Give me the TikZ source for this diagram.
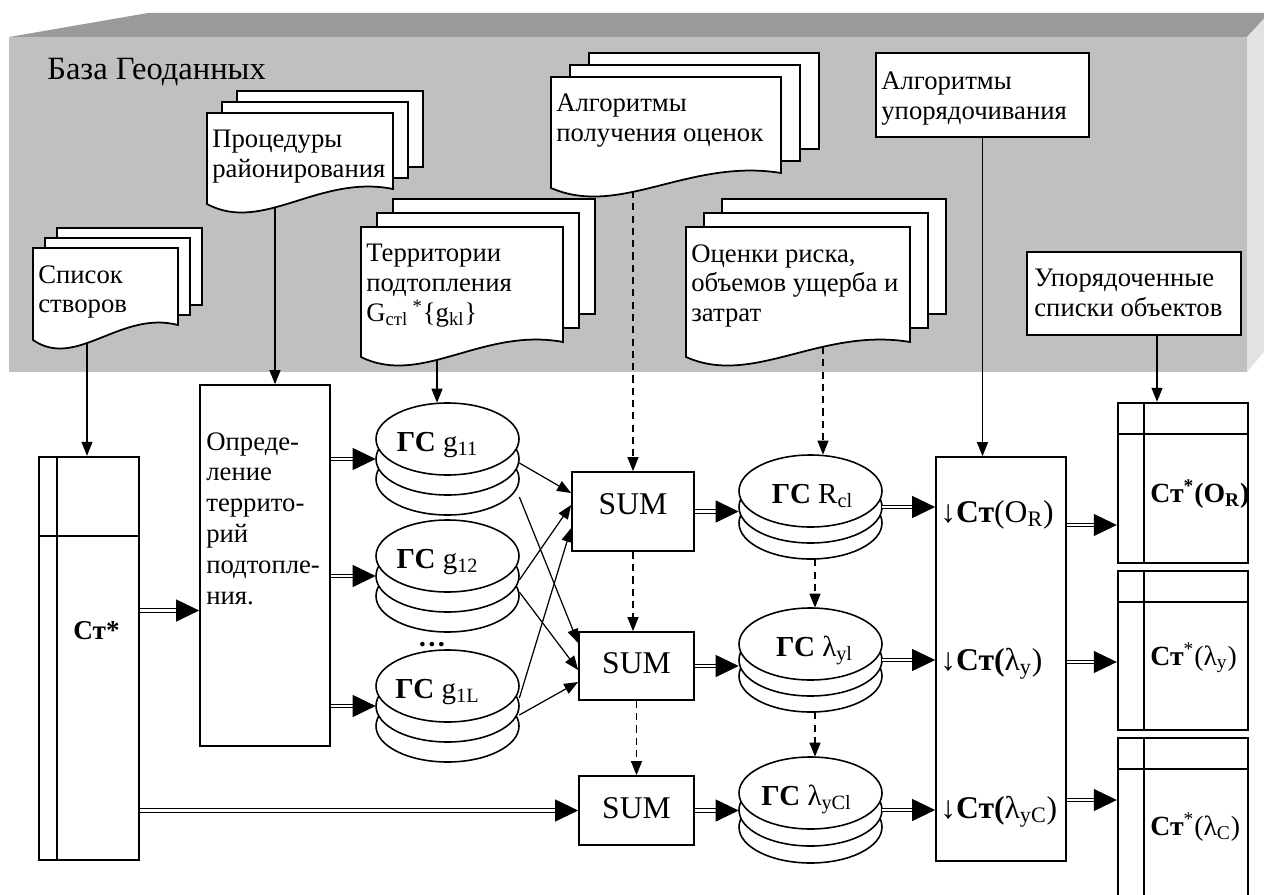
\documentclass[tikz,border=0pt]{standalone}
\usepackage{fontspec}
\setmainfont{Liberation Serif}
\usetikzlibrary{arrows.meta}

\definecolor{slabtop}{HTML}{9A9A9A}
\definecolor{slabfront}{HTML}{C0C0C0}
\definecolor{slabside}{HTML}{E2E2E2}

\tikzset{
  blk/.style={draw, line width=1pt, fill=white, inner sep=0pt},
  tbl/.style={draw, line width=1.4pt, fill=white, inner sep=0pt},
  lbl/.style={font=\fontsize{15.2}{17}\selectfont, inner sep=0pt, align=left},
  arr/.style={line width=0.7pt, -{Triangle[length=0.28cm,width=0.22cm]}},
  dasharr/.style={arr, dash pattern=on 4pt off 3pt},
  dblarr/.style={line width=0.6pt, double, double distance=1.3pt, -{Triangle[length=0.46cm,width=0.44cm]}},
  sumbox/.style={blk, font=\fontsize{18}{18}\selectfont},
  sortlbl/.style={font=\fontsize{18}{18}\selectfont, inner sep=0pt},
  tbllbl/.style={font=\fontsize{15.8}{15.8}\selectfont, inner sep=0pt}
}

% stack of document sheets: name, x1, x2, top, bottom (left end of wave), dx, dy, text
\newcommand{\docstack}[8]{
  \draw[line width=1pt, fill=white] ({#2+2*#6},{#4-2*#7}) rectangle ({#3+2*#6},{#5-15-2*#7});
  \draw[line width=1pt, fill=white] ({#2+#6},{#4-#7}) rectangle ({#3+#6},{#5-15-#7});
  \draw[line width=1pt, fill=white] (#2,#4) -- (#3,#4) -- (#3,{#5-15})
    .. controls ({#2+0.6*(#3-#2)},{#5-30}) and ({#2+0.3*(#3-#2)},{#5+30}) .. (#2,#5) -- cycle;
  \node[lbl, anchor=north west] (#1) at ({#2+5},{#4+17}) {#8};
}

% layered disk: name, cx, cy (top ellipse), gap, label, label x offset
\newcommand{\gsdisk}[6]{
  \foreach \k in {2,1,0} {
    \draw[line width=0.9pt, fill=white] (#2,{#3+\k*#4}) ellipse [x radius=71.5, y radius=36];
  }
  \node[inner sep=0pt, minimum width=2.86cm, minimum height={(72+2*#4)*0.02cm}] (#1) at (#2,{#3+#4}) {};
  \node[font=\fontsize{16.5}{16.5}\selectfont, inner sep=0pt, anchor=base] (#1-lbl) at ({#2+#6},{#3+12}) {#5};
}

\begin{document}
\begin{tikzpicture}[x=0.02cm, y=-0.02cm]
\path[use as bounding box, clip] (0,0) rectangle (1264,895);

% geodatabase slab
\fill[slabtop] (9,37) -- (148,13) -- (1270,13) -- (1247,37) -- cycle;
\fill[slabfront] (9,37) rectangle (1247,372);
\fill[slabside] (1247,37) -- (1270,12) -- (1270,345) -- (1247,372) -- cycle;
\node[anchor=base west, inner sep=0pt, font=\fontsize{18.5}{20}\selectfont] (geobase) at (47,80) {База Геоданных};

% documents
\docstack{spisok}{33}{178}{248}{340}{12}{10}{Список\\створов}
\docstack{protsed}{207}{393}{113}{204}{15}{11}{Процедуры\\районирования}
\docstack{territ}{361}{563}{227}{357}{16}{14}{Территории\\подтопления\\G\textsubscript{стl}\,\textsuperscript{*}\{g\textsubscript{kl}\}}
\docstack{algotsen}{551}{781}{77}{188}{19}{12}{Алгоритмы\\получения оценок}
\docstack{otsenki}{686}{910}{227}{357}{18}{14}{Оценки риска,\\объемов ущерба и\\затрат}

\node[blk, minimum width=4.26cm, minimum height=1.68cm] (alguporyad) at (982.5,95) {};
\node[lbl, anchor=north west] (alguporyadtxt) at (881,72) {Алгоритмы\\упорядочивания};
\node[blk, minimum width=4.28cm, minimum height=1.66cm] (uporyad) at (1134,293.5) {};
\node[lbl, anchor=north west] (uporyadtxt) at (1034,269) {Упорядоченные\\списки объектов};

% main row
\node[tbl, minimum width=2cm, minimum height=8.06cm] (st) at (89,658.5) {};
\draw[line width=1.2pt] ([xshift=0.38cm]st.north west) -- ([xshift=0.38cm]st.south west);
\draw[line width=1.2pt] ([yshift=-1.6cm]st.north west) -- ([yshift=-1.6cm]st.north east);
\node[anchor=base west, inner sep=0pt, font=\bfseries\fontsize{15.5}{15.5}\selectfont] (stlbl) at (73,639) {Ст*};

\node[blk, minimum width=2.6cm, minimum height=7.22cm] (opred) at (265,565.5) {};
\node[lbl, anchor=north west, font=\fontsize{15.2}{17.6}\selectfont] (opredtxt) at (206,432) {Опреде-\\ление\\террито-\\рий\\подтопле-\\ния.};

\gsdisk{g11}{447.5}{439}{20}{\textbf{ГС} g\textsubscript{11}}{-10}
\gsdisk{g12}{447.5}{556}{20}{\textbf{ГС} g\textsubscript{12}}{-10}
\gsdisk{g1L}{447.5}{686}{20}{\textbf{ГС} g\textsubscript{1L}}{-10}
\node[inner sep=0pt, font=\bfseries\fontsize{16}{16}\selectfont] (gdots) at (432,645) {…};

\node[sumbox, minimum width=2.44cm, minimum height=1.58cm, text depth=0.3cm] (sum1) at (633,511.5) {SUM};
\node[sumbox, minimum width=2.3cm, minimum height=1.36cm, text depth=0.1cm] (sum2) at (636.5,666) {SUM};
\node[sumbox, minimum width=2.3cm, minimum height=1.38cm, text depth=0.1cm] (sum3) at (636.5,810.5) {SUM};

\gsdisk{rcl}{810.5}{491}{16}{\textbf{ГС} R\textsubscript{cl}}{2}
\gsdisk{lyl}{810.5}{644}{16}{\textbf{ГС} λ\textsubscript{уl}}{4}
\gsdisk{lycl}{810.5}{793}{17}{\textbf{ГС} λ\textsubscript{уCl}}{-4}

\node[blk, minimum width=2.6cm, minimum height=8.08cm] (sort) at (1001,659) {};
\node[sortlbl, anchor=base west] (sortR) at (940,522) {↓\textbf{Ст}(O\textsubscript{R})};
\node[sortlbl, anchor=base west] (sortY) at (940,670) {↓\textbf{Ст(}λ\textsubscript{у})};
\node[sortlbl, anchor=base west] (sortC) at (940,818) {↓\textbf{Ст(}λ\textsubscript{уC})};

\node[tbl, minimum width=2.6cm, minimum height=3.2cm] (t1) at (1183,483) {};
\node[tbl, minimum width=2.6cm, minimum height=3.18cm] (t2) at (1183,650.5) {};
\node[tbl, minimum width=2.6cm, minimum height=3.48cm] (t3) at (1183,825) {};
\foreach \t in {t1,t2,t3} {
  \draw[line width=1.2pt] ([xshift=0.54cm]\t.north west) -- ([xshift=0.54cm]\t.south west);
  \draw[line width=1.2pt] ([yshift=-0.65cm]\t.north west) -- ([yshift=-0.65cm]\t.north east);
}
\node[tbllbl, anchor=base west] (t1lbl) at (1150,502) {\textbf{Ст\textsuperscript{*}(O\textsubscript{R})}};
\node[tbllbl, anchor=base west] (t2lbl) at (1150,665) {\textbf{Ст}\textsuperscript{*}(λ\textsubscript{у})};
\node[tbllbl, anchor=base west] (t3lbl) at (1150,835) {\textbf{Ст}\textsuperscript{*}(λ\textsubscript{C})};

% connectors from the database
\coordinate (spisok-out) at (87,344);
\coordinate (protsed-out) at (275,208);
\coordinate (territ-out) at (437,360);
\coordinate (algotsen-out) at (633,191);
\coordinate (otsenki-out) at (823,347);
\draw[arr] (spisok-out) -- (spisok-out |- st.north);
\draw[arr] (protsed-out) -- (protsed-out |- opred.north);
\draw[arr] (territ-out) -- (territ-out |- g11.north);
\draw[dasharr] (algotsen-out) -- (algotsen-out |- sum1.north);
\draw[dasharr] (otsenki-out) -- (otsenki-out |- rcl.north);
\draw[arr] (alguporyad.south) -- (alguporyad.south |- sort.north);
\coordinate (t1top) at ([xshift=-0.52cm]t1.north);
\draw[arr] (t1top |- uporyad.south) -- (t1top);

% double arrows
\coordinate (stout) at ([yshift=0.96cm]st.east);
\draw[dblarr] (stout) -- (stout -| opred.west);
\foreach \g in {g11,g12,g1L}
  \draw[dblarr] (\g.west -| opred.east) -- (\g.west);
\draw[dblarr] (sum3.west -| st.east) -- (sum3.west);
\draw[dblarr] (sum1.east) -- (sum1.east -| rcl.west);
\draw[dblarr] (sum2.east) -- (sum2.east -| lyl.west);
\draw[dblarr] (sum3.east) -- (sum3.east -| lycl.west);
\foreach \d in {rcl,lyl,lycl}
  \draw[dblarr] (\d.east) -- (\d.east -| sort.west);
\coordinate (t1in) at ([yshift=-0.84cm]t1.west);
\coordinate (t2in) at ([yshift=-0.23cm]t2.west);
\coordinate (t3in) at ([yshift=0.5cm]t3.west);
\foreach \t in {t1in,t2in,t3in}
  \draw[dblarr] (\t -| sort.east) -- (\t);

% disks to sums
\foreach \a/\sa/\b/\sb in {g11/-0.08/sum1/0.37, g11/-0.76/sum2/0.46, g12/-0.08/sum1/0.13,
    g12/-0.32/sum2/-0.08, g1L/0.16/sum1/-0.33, g1L/-0.18/sum2/-0.32}
  \draw[arr] ([yshift=\sa cm]\a.east) -- ([yshift=\sb cm]\b.west);

% dashed chains
\draw[dasharr] (sum1.south) -- (sum1.south |- sum2.north);
\draw[dasharr] (sum2.south) -- (sum3.north);
\draw[dasharr] ([xshift=0.09cm]rcl.south) -- ([xshift=0.09cm]lyl.north);
\draw[dasharr] ([xshift=0.09cm]lyl.south) -- ([xshift=0.09cm]lycl.north);
\end{tikzpicture}
\end{document}
